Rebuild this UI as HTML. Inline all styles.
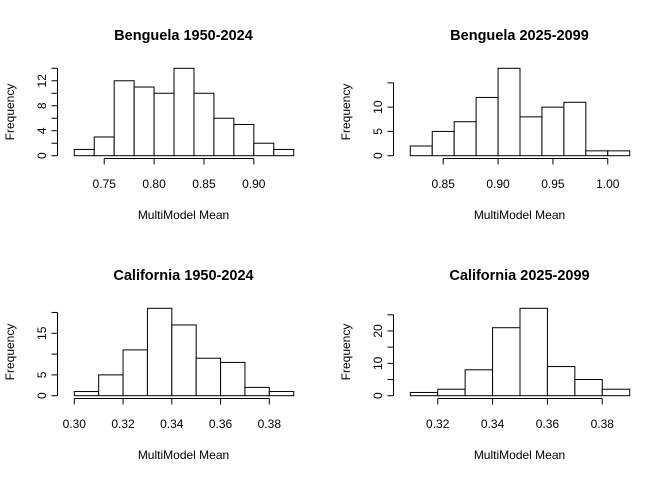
<!DOCTYPE html>
<html><head><meta charset="utf-8">
<style>
html,body{margin:0;padding:0;background:#fff;}
svg{display:block;font-family:"Liberation Sans",Arial,sans-serif;}
</style></head>
<body>
<svg id="chart" width="672" height="480" viewBox="0 0 672 480" xmlns="http://www.w3.org/2000/svg"></svg>
<script>
// Panel data
const titles = ["Benguela 1950-2024","Benguela 2025-2099","California 1950-2024","California 2025-2099"];
const breaks1 = [0.72,0.74,0.76,0.78,0.80,0.82,0.84,0.86,0.88,0.90,0.92,0.94];
const counts1 = [1,3,12,11,10,14,10,6,5,2,1];
const breaks2 = [0.82,0.84,0.86,0.88,0.90,0.92,0.94,0.96,0.98,1.00,1.02];
const counts2 = [2,5,7,12,18,8,10,11,1,1];
const breaks3 = [0.30,0.31,0.32,0.33,0.34,0.35,0.36,0.37,0.38,0.39];
const counts3 = [1,5,11,21,17,9,8,2,1];
const breaks4 = [0.31,0.32,0.33,0.34,0.35,0.36,0.37,0.38,0.39];
const counts4 = [1,2,8,21,27,9,5,2];
const xTicks1 = ["0.75","0.80","0.85","0.90"];
const xTicks2 = ["0.85","0.90","0.95","1.00"];
const xTicks3 = ["0.30","0.32","0.34","0.36","0.38"];
const xTicks4 = ["0.32","0.34","0.36","0.38"];
const yTicks1 = [0,2,4,6,8,10,12,14];
const yTicks2 = [0,5,10,15];
const yTicks3 = [0,5,10,15,20];
const yTicks4 = [0,5,10,15,20,25];
const yLabels1 = [0,4,8,12];
const yLabels2 = [0,5,10];
const yLabels3 = [0,5,15];
const yLabels4 = [0,10,20];

const panels = [
  {t:titles[0],b:breaks1,c:counts1,xt:xTicks1,yt:yTicks1,yl:yLabels1,ox:0,oy:0},
  {t:titles[1],b:breaks2,c:counts2,xt:xTicks2,yt:yTicks2,yl:yLabels2,ox:336,oy:0},
  {t:titles[2],b:breaks3,c:counts3,xt:xTicks3,yt:yTicks3,yl:yLabels3,ox:0,oy:240},
  {t:titles[3],b:breaks4,c:counts4,xt:xTicks4,yt:yTicks4,yl:yLabels4,ox:336,oy:240}
];
const NS="http://www.w3.org/2000/svg";
const svg=document.getElementById('chart');
function mk(tag,attrs,parent){const e=document.createElementNS(NS,tag);for(const k in attrs)e.setAttribute(k,attrs[k]);(parent||svg).appendChild(e);return e;}

panels.forEach((p,pi)=>{
  const g=mk('g',{});
  
  
  const lo=p.b[0],hi=p.b[p.b.length-1];
  const X=v=>p.ox+74.3+(v-lo)/(hi-lo)*(293.7-74.3);
  const maxC=Math.max(...p.c);
  const Y=v=>p.oy+155.7-v/maxC*(155.7-68.3);
  // title
  const t=mk('text',{x:p.ox+183.5,y:p.oy+40,'text-anchor':'middle','font-size':'14.5','font-weight':'bold',fill:'#000'},g);
  t.textContent=p.t;
  
  
  // bars
  p.c.forEach((c,i)=>{
    const x1=X(p.b[i]),x2=X(p.b[i+1]);
    const r=mk('rect',{x:x1,y:Y(c),width:x2-x1,height:Y(0)-Y(c),fill:'#fff',stroke:'#000','stroke-width':'1'},g);
    
    
  });
  // x axis
  const xv=p.xt.map(Number);
  const xa=mk('g',{},g);
  
  
  const ay=p.oy+158.5;
  mk('line',{x1:X(xv[0]),x2:X(xv[xv.length-1]),y1:ay,y2:ay,stroke:'#000'},xa);
  p.xt.forEach((s,i)=>{
    const x=X(xv[i]);
    mk('line',{x1:x,x2:x,y1:ay,y2:ay+6,stroke:'#000'},xa);
    const tx=mk('text',{x:x,y:p.oy+188,'text-anchor':'middle','font-size':'12',fill:'#000'},xa);
    tx.textContent=s;
    
    
  });
  const xl=mk('text',{x:p.ox+183.5,y:p.oy+219,'text-anchor':'middle','font-size':'12',fill:'#000'},g);
  xl.textContent='MultiModel Mean';
  
  
  // y axis
  const ya=mk('g',{},g);
  
  
  const ax=p.ox+57.5;
  mk('line',{x1:ax,x2:ax,y1:Y(p.yt[0]),y2:Y(p.yt[p.yt.length-1]),stroke:'#000'},ya);
  p.yt.forEach(v=>{
    mk('line',{x1:ax-6,x2:ax,y1:Y(v),y2:Y(v),stroke:'#000'},ya);
  });
  p.yl.forEach(v=>{
    const tx=mk('text',{x:0,y:0,'text-anchor':'middle','font-size':'12',fill:'#000',transform:`translate(${p.ox+46},${Y(v)}) rotate(-90)`},ya);
    tx.textContent=String(v);
    
    
  });
  const yl=mk('text',{x:0,y:0,'text-anchor':'middle','font-size':'12',fill:'#000',transform:`translate(${p.ox+14},${p.oy+112}) rotate(-90)`},g);
  yl.textContent='Frequency';
  
  
});
</script>
</body></html>
